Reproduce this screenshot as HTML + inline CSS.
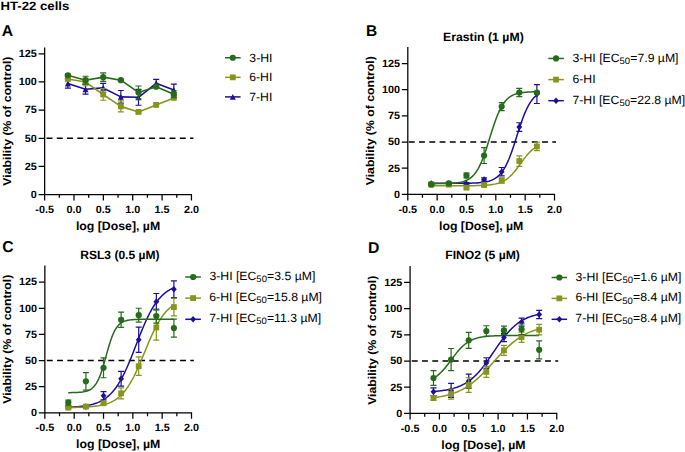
<!DOCTYPE html><html><head><meta charset="utf-8"><title>HT-22 cells viability</title><style>
html,body{margin:0;padding:0;background:#fff;width:685px;height:452px;overflow:hidden}
svg{display:block}
text{font-family:"Liberation Sans", sans-serif;fill:#000;text-rendering:geometricPrecision}
</style></head><body>
<svg width="685" height="452" viewBox="0 0 685 452">
<text transform="translate(0.41,9.6) scale(1.0990,1)" font-size="12" font-weight="bold">HT-22 cells</text>
<text transform="translate(1.79,35.9) scale(1.0000,1)" font-size="15.7" font-weight="bold">A</text>
<path d="M44.65 47.5V200.55M38.65 194.55H191.45V200.55" stroke="#000" stroke-width="1.25" fill="none"/>
<path d="M38.65 166.4H44.65M38.65 138.25H44.65M38.65 110.1H44.65M38.65 81.95H44.65M38.65 53.8H44.65M59.33 194.55V197.85M74.01 194.55V200.55M88.69 194.55V197.85M103.37 194.55V200.55M118.05 194.55V197.85M132.73 194.55V200.55M147.41 194.55V197.85M162.09 194.55V200.55M176.77 194.55V197.85" stroke="#000" stroke-width="1.25" fill="none"/>
<text transform="translate(36.88,197.85) scale(1.0300,1)" font-size="10.5" font-weight="bold" text-anchor="end">0</text>
<text transform="translate(36.88,169.7) scale(1.0300,1)" font-size="10.5" font-weight="bold" text-anchor="end">25</text>
<text transform="translate(36.88,141.55) scale(1.0300,1)" font-size="10.5" font-weight="bold" text-anchor="end">50</text>
<text transform="translate(36.88,113.4) scale(1.0300,1)" font-size="10.5" font-weight="bold" text-anchor="end">75</text>
<text transform="translate(36.88,85.25) scale(1.0300,1)" font-size="10.5" font-weight="bold" text-anchor="end">100</text>
<text transform="translate(36.88,57.1) scale(1.0300,1)" font-size="10.5" font-weight="bold" text-anchor="end">125</text>
<text transform="translate(44.65,212.95) scale(1.0300,1)" font-size="10.5" font-weight="bold" text-anchor="middle">-0.5</text>
<text transform="translate(74.01,212.95) scale(1.0300,1)" font-size="10.5" font-weight="bold" text-anchor="middle">0.0</text>
<text transform="translate(103.37,212.95) scale(1.0300,1)" font-size="10.5" font-weight="bold" text-anchor="middle">0.5</text>
<text transform="translate(132.73,212.95) scale(1.0300,1)" font-size="10.5" font-weight="bold" text-anchor="middle">1.0</text>
<text transform="translate(162.09,212.95) scale(1.0300,1)" font-size="10.5" font-weight="bold" text-anchor="middle">1.5</text>
<text transform="translate(191.45,212.95) scale(1.0300,1)" font-size="10.5" font-weight="bold" text-anchor="middle">2.0</text>
<line x1="46.55" y1="138.25" x2="193.4" y2="138.25" stroke="#000" stroke-width="1.45" stroke-dasharray="5.9 4.35"/>
<text transform="translate(118.05,229.75) scale(1.0250,1)" font-size="12" font-weight="bold" text-anchor="middle">log [Dose], µM</text>
<text transform="translate(10.65,121.12) rotate(-90) scale(1.0750,1)" font-size="11.4" font-weight="bold" text-anchor="middle">Viability (% of control)</text>
<polyline points="67.85,83.5 85.52,89.28 103.18,87.92 120.84,96.87 138.51,97.32 156.17,83.27 173.84,89.96" fill="none" stroke="#1d0f98" stroke-width="1.6" stroke-linejoin="round"/>
<polyline points="67.85,78.97 85.52,82.03 103.18,94.49 120.84,106.38 138.51,111.93 156.17,104.91 173.84,97.89" fill="none" stroke="#87951f" stroke-width="1.6" stroke-linejoin="round"/>
<polyline points="67.85,75.34 85.52,80.21 103.18,77.16 120.84,80.21 138.51,92.45 156.17,86.67 173.84,94.15" fill="none" stroke="#246c18" stroke-width="1.6" stroke-linejoin="round"/>
<path d="M67.85 78.85V88.14M64.85 78.85H70.85M64.85 88.14H70.85" stroke="#1d0f98" stroke-width="1.2" fill="none"/>
<path d="M85.52 84.41V94.15M82.52 84.41H88.52M82.52 94.15H88.52" stroke="#1d0f98" stroke-width="1.2" fill="none"/>
<path d="M103.18 83.39V92.45M100.18 83.39H106.18M100.18 92.45H106.18" stroke="#1d0f98" stroke-width="1.2" fill="none"/>
<path d="M120.84 90.52V103.21M117.84 90.52H123.84M117.84 103.21H123.84" stroke="#1d0f98" stroke-width="1.2" fill="none"/>
<path d="M138.51 89.39V105.25M135.51 89.39H141.51M135.51 105.25H141.51" stroke="#1d0f98" stroke-width="1.2" fill="none"/>
<path d="M156.17 79.31V87.24M153.17 79.31H159.17M153.17 87.24H159.17" stroke="#1d0f98" stroke-width="1.2" fill="none"/>
<path d="M173.84 84.18V95.73M170.84 84.18H176.84M170.84 95.73H176.84" stroke="#1d0f98" stroke-width="1.2" fill="none"/>
<path d="M67.85 80.6L70.85 86.4L64.85 86.4Z" fill="#1d0f98"/>
<path d="M85.52 86.38L88.52 92.18L82.52 92.18Z" fill="#1d0f98"/>
<path d="M103.18 85.02L106.18 90.82L100.18 90.82Z" fill="#1d0f98"/>
<path d="M120.84 93.97L123.84 99.77L117.84 99.77Z" fill="#1d0f98"/>
<path d="M138.51 94.42L141.51 100.22L135.51 100.22Z" fill="#1d0f98"/>
<path d="M156.17 80.37L159.17 86.17L153.17 86.17Z" fill="#1d0f98"/>
<path d="M173.84 87.06L176.84 92.86L170.84 92.86Z" fill="#1d0f98"/>
<path d="M67.85 77.83V80.1M64.85 77.83H70.85M64.85 80.1H70.85" stroke="#87951f" stroke-width="1.2" fill="none"/>
<path d="M85.52 78.29V85.76M82.52 78.29H88.52M82.52 85.76H88.52" stroke="#87951f" stroke-width="1.2" fill="none"/>
<path d="M103.18 88.71V100.26M100.18 88.71H106.18M100.18 100.26H106.18" stroke="#87951f" stroke-width="1.2" fill="none"/>
<path d="M120.84 100.83V111.93M117.84 100.83H123.84M117.84 111.93H123.84" stroke="#87951f" stroke-width="1.2" fill="none"/>
<path d="M138.51 110.8V113.06M135.51 110.8H141.51M135.51 113.06H141.51" stroke="#87951f" stroke-width="1.2" fill="none"/>
<path d="M156.17 103.78V106.04M153.17 103.78H159.17M153.17 106.04H159.17" stroke="#87951f" stroke-width="1.2" fill="none"/>
<path d="M173.84 96.75V99.02M170.84 96.75H176.84M170.84 99.02H176.84" stroke="#87951f" stroke-width="1.2" fill="none"/>
<rect x="64.95" y="76.07" width="5.8" height="5.8" fill="#87951f"/>
<rect x="82.62" y="79.13" width="5.8" height="5.8" fill="#87951f"/>
<rect x="100.28" y="91.59" width="5.8" height="5.8" fill="#87951f"/>
<rect x="117.94" y="103.48" width="5.8" height="5.8" fill="#87951f"/>
<rect x="135.61" y="109.03" width="5.8" height="5.8" fill="#87951f"/>
<rect x="153.27" y="102.01" width="5.8" height="5.8" fill="#87951f"/>
<rect x="170.94" y="94.99" width="5.8" height="5.8" fill="#87951f"/>
<path d="M67.85 74.21V76.48M64.85 74.21H70.85M64.85 76.48H70.85" stroke="#246c18" stroke-width="1.2" fill="none"/>
<path d="M85.52 76.25V84.18M82.52 76.25H88.52M82.52 84.18H88.52" stroke="#246c18" stroke-width="1.2" fill="none"/>
<path d="M103.18 72.85V81.46M100.18 72.85H106.18M100.18 81.46H106.18" stroke="#246c18" stroke-width="1.2" fill="none"/>
<path d="M120.84 79.08V81.35M117.84 79.08H123.84M117.84 81.35H123.84" stroke="#246c18" stroke-width="1.2" fill="none"/>
<path d="M138.51 85.99V98.9M135.51 85.99H141.51M135.51 98.9H141.51" stroke="#246c18" stroke-width="1.2" fill="none"/>
<path d="M156.17 85.54V87.8M153.17 85.54H159.17M153.17 87.8H159.17" stroke="#246c18" stroke-width="1.2" fill="none"/>
<path d="M173.84 90.75V97.55M170.84 90.75H176.84M170.84 97.55H176.84" stroke="#246c18" stroke-width="1.2" fill="none"/>
<circle cx="67.85" cy="75.34" r="3.1" fill="#246c18"/>
<circle cx="85.52" cy="80.21" r="3.1" fill="#246c18"/>
<circle cx="103.18" cy="77.16" r="3.1" fill="#246c18"/>
<circle cx="120.84" cy="80.21" r="3.1" fill="#246c18"/>
<circle cx="138.51" cy="92.45" r="3.1" fill="#246c18"/>
<circle cx="156.17" cy="86.67" r="3.1" fill="#246c18"/>
<circle cx="173.84" cy="94.15" r="3.1" fill="#246c18"/>
<line x1="225" y1="57.75" x2="240.6" y2="57.75" stroke="#246c18" stroke-width="1.5"/>
<circle cx="232.8" cy="57.75" r="3.1" fill="#246c18"/>
<text transform="translate(249.37,61.65) scale(1.0200,1)" font-size="12" font-weight="normal">3-HI</text>
<line x1="225" y1="77.35" x2="240.6" y2="77.35" stroke="#87951f" stroke-width="1.5"/>
<rect x="229.9" y="74.45" width="5.8" height="5.8" fill="#87951f"/>
<text transform="translate(249.23,81.25) scale(1.0200,1)" font-size="12" font-weight="normal">6-HI</text>
<line x1="225" y1="96.9" x2="240.6" y2="96.9" stroke="#1d0f98" stroke-width="1.5"/>
<path d="M232.8 94L235.8 99.8L229.8 99.8Z" fill="#1d0f98"/>
<text transform="translate(249.2,100.8) scale(1.0200,1)" font-size="12" font-weight="normal">7-HI</text>
<text transform="translate(365.98,35.6) scale(1.0000,1)" font-size="15.5" font-weight="bold">B</text>
<text transform="translate(442.99,40.8) scale(1.0230,1)" font-size="12" font-weight="bold">Erastin (1 µM)</text>
<path d="M407.8 46.92V200.4M401.8 194.4H554.5V200.4" stroke="#000" stroke-width="1.25" fill="none"/>
<path d="M401.8 168.23H407.8M401.8 142.06H407.8M401.8 115.9H407.8M401.8 89.73H407.8M401.8 63.56H407.8M422.47 194.4V197.7M437.14 194.4V200.4M451.81 194.4V197.7M466.48 194.4V200.4M481.15 194.4V197.7M495.82 194.4V200.4M510.49 194.4V197.7M525.16 194.4V200.4M539.83 194.4V197.7" stroke="#000" stroke-width="1.25" fill="none"/>
<text transform="translate(400.03,197.7) scale(1.0300,1)" font-size="10.5" font-weight="bold" text-anchor="end">0</text>
<text transform="translate(400.03,171.53) scale(1.0300,1)" font-size="10.5" font-weight="bold" text-anchor="end">25</text>
<text transform="translate(400.03,145.36) scale(1.0300,1)" font-size="10.5" font-weight="bold" text-anchor="end">50</text>
<text transform="translate(400.03,119.2) scale(1.0300,1)" font-size="10.5" font-weight="bold" text-anchor="end">75</text>
<text transform="translate(400.03,93.03) scale(1.0300,1)" font-size="10.5" font-weight="bold" text-anchor="end">100</text>
<text transform="translate(400.03,66.86) scale(1.0300,1)" font-size="10.5" font-weight="bold" text-anchor="end">125</text>
<text transform="translate(407.8,212.8) scale(1.0300,1)" font-size="10.5" font-weight="bold" text-anchor="middle">-0.5</text>
<text transform="translate(437.14,212.8) scale(1.0300,1)" font-size="10.5" font-weight="bold" text-anchor="middle">0.0</text>
<text transform="translate(466.48,212.8) scale(1.0300,1)" font-size="10.5" font-weight="bold" text-anchor="middle">0.5</text>
<text transform="translate(495.82,212.8) scale(1.0300,1)" font-size="10.5" font-weight="bold" text-anchor="middle">1.0</text>
<text transform="translate(525.16,212.8) scale(1.0300,1)" font-size="10.5" font-weight="bold" text-anchor="middle">1.5</text>
<text transform="translate(554.5,212.8) scale(1.0300,1)" font-size="10.5" font-weight="bold" text-anchor="middle">2.0</text>
<line x1="408.8" y1="142.06" x2="556" y2="142.06" stroke="#000" stroke-width="1.45" stroke-dasharray="5.9 4.35"/>
<text transform="translate(481.15,229.6) scale(1.0250,1)" font-size="12" font-weight="bold" text-anchor="middle">log [Dose], µM</text>
<text transform="translate(373.8,120.76) rotate(-90) scale(1.0750,1)" font-size="11.4" font-weight="bold" text-anchor="middle">Viability (% of control)</text>
<polyline points="431.27,183.36 432.45,183.36 433.62,183.36 434.79,183.36 435.97,183.36 437.14,183.36 438.31,183.36 439.49,183.36 440.66,183.36 441.83,183.36 443.01,183.36 444.18,183.36 445.36,183.36 446.53,183.36 447.7,183.36 448.88,183.35 450.05,183.35 451.22,183.35 452.4,183.35 453.57,183.34 454.74,183.34 455.92,183.34 457.09,183.33 458.26,183.33 459.44,183.32 460.61,183.31 461.79,183.3 462.96,183.29 464.13,183.28 465.31,183.27 466.48,183.25 467.65,183.23 468.83,183.21 470,183.18 471.17,183.15 472.35,183.12 473.52,183.07 474.7,183.02 475.87,182.97 477.04,182.9 478.22,182.82 479.39,182.73 480.56,182.62 481.74,182.5 482.91,182.35 484.08,182.18 485.26,181.99 486.43,181.76 487.6,181.49 488.78,181.18 489.95,180.82 491.13,180.4 492.3,179.92 493.47,179.36 494.65,178.71 495.82,177.97 496.99,177.11 498.17,176.14 499.34,175.02 500.51,173.75 501.69,172.31 502.86,170.69 504.04,168.87 505.21,166.84 506.38,164.6 507.56,162.14 508.73,159.45 509.9,156.55 511.08,153.44 512.25,150.16 513.42,146.71 514.6,143.15 515.77,139.5 516.94,135.81 518.12,132.13 519.29,128.49 520.47,124.95 521.64,121.54 522.81,118.28 523.99,115.22 525.16,112.36 526.33,109.72 527.51,107.3 528.68,105.1 529.85,103.11 531.03,101.34 532.2,99.75 533.38,98.35 534.55,97.11 535.72,96.02 536.9,95.07" fill="none" stroke="#1d0f98" stroke-width="1.5" stroke-linejoin="round"/>
<polyline points="431.27,185.78 432.45,185.78 433.62,185.78 434.79,185.78 435.97,185.78 437.14,185.78 438.31,185.78 439.49,185.78 440.66,185.78 441.83,185.78 443.01,185.78 444.18,185.78 445.36,185.78 446.53,185.78 447.7,185.78 448.88,185.78 450.05,185.78 451.22,185.78 452.4,185.78 453.57,185.77 454.74,185.77 455.92,185.77 457.09,185.77 458.26,185.77 459.44,185.76 460.61,185.76 461.79,185.76 462.96,185.75 464.13,185.75 465.31,185.74 466.48,185.73 467.65,185.73 468.83,185.72 470,185.71 471.17,185.69 472.35,185.68 473.52,185.66 474.7,185.64 475.87,185.62 477.04,185.6 478.22,185.57 479.39,185.53 480.56,185.49 481.74,185.45 482.91,185.39 484.08,185.33 485.26,185.26 486.43,185.18 487.6,185.08 488.78,184.97 489.95,184.85 491.13,184.7 492.3,184.53 493.47,184.34 494.65,184.12 495.82,183.87 496.99,183.58 498.17,183.25 499.34,182.88 500.51,182.45 501.69,181.96 502.86,181.42 504.04,180.8 505.21,180.11 506.38,179.34 507.56,178.49 508.73,177.55 509.9,176.52 511.08,175.39 512.25,174.17 513.42,172.87 514.6,171.48 515.77,170.02 516.94,168.5 518.12,166.92 519.29,165.32 520.47,163.69 521.64,162.07 522.81,160.46 523.99,158.89 525.16,157.36 526.33,155.9 527.51,154.52 528.68,153.21 529.85,151.99 531.03,150.87 532.2,149.84 533.38,148.89 534.55,148.04 535.72,147.27 536.9,146.58" fill="none" stroke="#87951f" stroke-width="1.5" stroke-linejoin="round"/>
<polyline points="431.27,183.65 432.45,183.65 433.62,183.65 434.79,183.64 435.97,183.63 437.14,183.62 438.31,183.61 439.49,183.6 440.66,183.59 441.83,183.57 443.01,183.55 444.18,183.53 445.36,183.5 446.53,183.47 447.7,183.43 448.88,183.38 450.05,183.33 451.22,183.27 452.4,183.2 453.57,183.11 454.74,183.01 455.92,182.89 457.09,182.75 458.26,182.59 459.44,182.4 460.61,182.17 461.79,181.91 462.96,181.6 464.13,181.23 465.31,180.81 466.48,180.31 467.65,179.74 468.83,179.07 470,178.3 471.17,177.4 472.35,176.37 473.52,175.18 474.7,173.82 475.87,172.28 477.04,170.53 478.22,168.57 479.39,166.38 480.56,163.95 481.74,161.28 482.91,158.38 484.08,155.25 485.26,151.92 486.43,148.42 487.6,144.79 488.78,141.05 489.95,137.28 491.13,133.5 492.3,129.79 493.47,126.17 494.65,122.71 495.82,119.42 496.99,116.33 498.17,113.48 499.34,110.86 500.51,108.48 501.69,106.33 502.86,104.41 504.04,102.71 505.21,101.2 506.38,99.88 507.56,98.73 508.73,97.72 509.9,96.85 511.08,96.1 512.25,95.45 513.42,94.89 514.6,94.41 515.77,94 516.94,93.65 518.12,93.35 519.29,93.09 520.47,92.87 521.64,92.69 522.81,92.53 523.99,92.39 525.16,92.28 526.33,92.18 527.51,92.1 528.68,92.03 529.85,91.97 531.03,91.92 532.2,91.87 533.38,91.84 534.55,91.8 535.72,91.78 536.9,91.76" fill="none" stroke="#246c18" stroke-width="1.5" stroke-linejoin="round"/>
<path d="M431.27 182.42V184.52M428.27 182.42H434.27M428.27 184.52H434.27" stroke="#1d0f98" stroke-width="1.2" fill="none"/>
<path d="M448.88 182.42V184.52M445.88 182.42H451.88M445.88 184.52H451.88" stroke="#1d0f98" stroke-width="1.2" fill="none"/>
<path d="M466.48 182.63V184.73M463.48 182.63H469.48M463.48 184.73H469.48" stroke="#1d0f98" stroke-width="1.2" fill="none"/>
<path d="M484.08 177.89V181.05M481.08 177.89H487.08M481.08 181.05H487.08" stroke="#1d0f98" stroke-width="1.2" fill="none"/>
<path d="M501.69 167.48V175.9M498.69 167.48H504.69M498.69 175.9H504.69" stroke="#1d0f98" stroke-width="1.2" fill="none"/>
<path d="M519.29 122.77V131.4M516.29 122.77H522.29M516.29 131.4H522.29" stroke="#1d0f98" stroke-width="1.2" fill="none"/>
<path d="M536.9 84.58V103.52M533.9 84.58H539.9M533.9 103.52H539.9" stroke="#1d0f98" stroke-width="1.2" fill="none"/>
<path d="M431.27 180.17L434.17 183.47L431.27 186.77L428.37 183.47Z" fill="#1d0f98"/>
<path d="M448.88 180.17L451.78 183.47L448.88 186.77L445.98 183.47Z" fill="#1d0f98"/>
<path d="M466.48 180.38L469.38 183.68L466.48 186.98L463.58 183.68Z" fill="#1d0f98"/>
<path d="M484.08 176.17L486.98 179.47L484.08 182.77L481.18 179.47Z" fill="#1d0f98"/>
<path d="M501.69 168.39L504.59 171.69L501.69 174.99L498.79 171.69Z" fill="#1d0f98"/>
<path d="M519.29 123.78L522.19 127.08L519.29 130.38L516.39 127.08Z" fill="#1d0f98"/>
<path d="M536.9 90.75L539.8 94.05L536.9 97.35L534 94.05Z" fill="#1d0f98"/>
<path d="M431.27 183.57V185.68M428.27 183.57H434.27M428.27 185.68H434.27" stroke="#87951f" stroke-width="1.2" fill="none"/>
<path d="M448.88 183.57V185.68M445.88 183.57H451.88M445.88 185.68H451.88" stroke="#87951f" stroke-width="1.2" fill="none"/>
<path d="M466.48 186.63V188.73M463.48 186.63H469.48M463.48 188.73H469.48" stroke="#87951f" stroke-width="1.2" fill="none"/>
<path d="M484.08 184V186.1M481.08 184H487.08M481.08 186.1H487.08" stroke="#87951f" stroke-width="1.2" fill="none"/>
<path d="M501.69 177.89V183.15M498.69 177.89H504.69M498.69 183.15H504.69" stroke="#87951f" stroke-width="1.2" fill="none"/>
<path d="M519.29 155.8V166.32M516.29 155.8H522.29M516.29 166.32H522.29" stroke="#87951f" stroke-width="1.2" fill="none"/>
<path d="M536.9 142.23V150.65M533.9 142.23H539.9M533.9 150.65H539.9" stroke="#87951f" stroke-width="1.2" fill="none"/>
<rect x="428.37" y="181.73" width="5.8" height="5.8" fill="#87951f"/>
<rect x="445.98" y="181.73" width="5.8" height="5.8" fill="#87951f"/>
<rect x="463.58" y="184.78" width="5.8" height="5.8" fill="#87951f"/>
<rect x="481.18" y="182.15" width="5.8" height="5.8" fill="#87951f"/>
<rect x="498.79" y="177.62" width="5.8" height="5.8" fill="#87951f"/>
<rect x="516.39" y="158.16" width="5.8" height="5.8" fill="#87951f"/>
<rect x="534" y="143.54" width="5.8" height="5.8" fill="#87951f"/>
<path d="M431.27 183.36V185.47M428.27 183.36H434.27M428.27 185.47H434.27" stroke="#246c18" stroke-width="1.2" fill="none"/>
<path d="M448.88 182.42V184.52M445.88 182.42H451.88M445.88 184.52H451.88" stroke="#246c18" stroke-width="1.2" fill="none"/>
<path d="M466.48 173.16V177.79M463.48 173.16H469.48M463.48 177.79H469.48" stroke="#246c18" stroke-width="1.2" fill="none"/>
<path d="M484.08 147.7V163.48M481.08 147.7H487.08M481.08 163.48H487.08" stroke="#246c18" stroke-width="1.2" fill="none"/>
<path d="M501.69 102.57V110.57M498.69 102.57H504.69M498.69 110.57H504.69" stroke="#246c18" stroke-width="1.2" fill="none"/>
<path d="M519.29 88.47V96.68M516.29 88.47H522.29M516.29 96.68H522.29" stroke="#246c18" stroke-width="1.2" fill="none"/>
<path d="M536.9 91.52V93.63M533.9 91.52H539.9M533.9 93.63H539.9" stroke="#246c18" stroke-width="1.2" fill="none"/>
<circle cx="431.27" cy="184.42" r="3.1" fill="#246c18"/>
<circle cx="448.88" cy="183.47" r="3.1" fill="#246c18"/>
<circle cx="466.48" cy="175.47" r="3.1" fill="#246c18"/>
<circle cx="484.08" cy="155.59" r="3.1" fill="#246c18"/>
<circle cx="501.69" cy="106.57" r="3.1" fill="#246c18"/>
<circle cx="519.29" cy="92.58" r="3.1" fill="#246c18"/>
<circle cx="536.9" cy="92.58" r="3.1" fill="#246c18"/>
<line x1="548.3" y1="58.45" x2="563.8" y2="58.45" stroke="#246c18" stroke-width="1.5"/>
<circle cx="556.05" cy="58.45" r="3.1" fill="#246c18"/>
<text transform="translate(572.61,61.65) scale(1.0200,1)" font-size="12" font-weight="normal">3-HI [EC<tspan font-size="9.3" dy="2.1">50</tspan><tspan dy="-2.1" dx="0.2">=7.9 µM]</tspan></text>
<line x1="548.3" y1="79.6" x2="563.8" y2="79.6" stroke="#87951f" stroke-width="1.5"/>
<rect x="553.15" y="76.7" width="5.8" height="5.8" fill="#87951f"/>
<text transform="translate(572.47,82.8) scale(1.0200,1)" font-size="12" font-weight="normal">6-HI</text>
<line x1="548.3" y1="100.7" x2="563.8" y2="100.7" stroke="#1d0f98" stroke-width="1.5"/>
<path d="M556.05 97.4L558.95 100.7L556.05 104L553.15 100.7Z" fill="#1d0f98"/>
<text transform="translate(572.44,103.9) scale(1.0200,1)" font-size="12" font-weight="normal">7-HI [EC<tspan font-size="9.3" dy="2.1">50</tspan><tspan dy="-2.1" dx="0.2">=22.8 µM]</tspan></text>
<text transform="translate(2.24,252.2) scale(1.0000,1)" font-size="15.7" font-weight="bold">C</text>
<text transform="translate(80.2,259.3) scale(1.0050,1)" font-size="12" font-weight="bold">RSL3 (0.5 µM)</text>
<path d="M44.86 265.46V418.83M38.86 412.83H191.5V418.83" stroke="#000" stroke-width="1.25" fill="none"/>
<path d="M38.86 386.68H44.86M38.86 360.54H44.86M38.86 334.39H44.86M38.86 308.25H44.86M38.86 282.1H44.86M59.52 412.83V416.13M74.19 412.83V418.83M88.85 412.83V416.13M103.52 412.83V418.83M118.18 412.83V416.13M132.84 412.83V418.83M147.51 412.83V416.13M162.17 412.83V418.83M176.84 412.83V416.13" stroke="#000" stroke-width="1.25" fill="none"/>
<text transform="translate(37.09,416.13) scale(1.0300,1)" font-size="10.5" font-weight="bold" text-anchor="end">0</text>
<text transform="translate(37.09,389.98) scale(1.0300,1)" font-size="10.5" font-weight="bold" text-anchor="end">25</text>
<text transform="translate(37.09,363.84) scale(1.0300,1)" font-size="10.5" font-weight="bold" text-anchor="end">50</text>
<text transform="translate(37.09,337.69) scale(1.0300,1)" font-size="10.5" font-weight="bold" text-anchor="end">75</text>
<text transform="translate(37.09,311.55) scale(1.0300,1)" font-size="10.5" font-weight="bold" text-anchor="end">100</text>
<text transform="translate(37.09,285.4) scale(1.0300,1)" font-size="10.5" font-weight="bold" text-anchor="end">125</text>
<text transform="translate(44.86,431.23) scale(1.0300,1)" font-size="10.5" font-weight="bold" text-anchor="middle">-0.5</text>
<text transform="translate(74.19,431.23) scale(1.0300,1)" font-size="10.5" font-weight="bold" text-anchor="middle">0.0</text>
<text transform="translate(103.52,431.23) scale(1.0300,1)" font-size="10.5" font-weight="bold" text-anchor="middle">0.5</text>
<text transform="translate(132.84,431.23) scale(1.0300,1)" font-size="10.5" font-weight="bold" text-anchor="middle">1.0</text>
<text transform="translate(162.17,431.23) scale(1.0300,1)" font-size="10.5" font-weight="bold" text-anchor="middle">1.5</text>
<text transform="translate(191.5,431.23) scale(1.0300,1)" font-size="10.5" font-weight="bold" text-anchor="middle">2.0</text>
<line x1="46.84" y1="360.54" x2="193.8" y2="360.54" stroke="#000" stroke-width="1.45" stroke-dasharray="5.9 4.35"/>
<text transform="translate(118.18,448.03) scale(1.0250,1)" font-size="12" font-weight="bold" text-anchor="middle">log [Dose], µM</text>
<text transform="translate(10.86,339.25) rotate(-90) scale(1.0750,1)" font-size="11.4" font-weight="bold" text-anchor="middle">Viability (% of control)</text>
<polyline points="68.32,407.17 69.5,407.12 70.67,407.07 71.84,407.01 73.01,406.95 74.19,406.88 75.36,406.81 76.53,406.72 77.71,406.63 78.88,406.53 80.05,406.42 81.23,406.29 82.4,406.16 83.57,406.01 84.75,405.85 85.92,405.67 87.09,405.47 88.27,405.25 89.44,405.02 90.61,404.76 91.78,404.47 92.96,404.16 94.13,403.82 95.3,403.44 96.48,403.03 97.65,402.58 98.82,402.09 100,401.55 101.17,400.97 102.34,400.33 103.52,399.63 104.69,398.88 105.86,398.06 107.04,397.17 108.21,396.2 109.38,395.15 110.55,394.02 111.73,392.81 112.9,391.49 114.07,390.08 115.25,388.57 116.42,386.96 117.59,385.23 118.77,383.4 119.94,381.45 121.11,379.39 122.29,377.22 123.46,374.94 124.63,372.55 125.81,370.05 126.98,367.46 128.15,364.78 129.32,362.01 130.5,359.18 131.67,356.27 132.84,353.32 134.02,350.33 135.19,347.32 136.36,344.29 137.54,341.27 138.71,338.26 139.88,335.29 141.06,332.36 142.23,329.49 143.4,326.68 144.58,323.96 145.75,321.32 146.92,318.78 148.09,316.34 149.27,314 150.44,311.77 151.61,309.66 152.79,307.65 153.96,305.76 155.13,303.98 156.31,302.31 157.48,300.75 158.65,299.29 159.83,297.93 161,296.67 162.17,295.49 163.35,294.41 164.52,293.4 165.69,292.47 166.86,291.62 168.04,290.83 169.21,290.1 170.38,289.44 171.56,288.83 172.73,288.27 173.9,287.75" fill="none" stroke="#1d0f98" stroke-width="1.5" stroke-linejoin="round"/>
<polyline points="68.32,407.5 69.5,407.49 70.67,407.47 71.84,407.46 73.01,407.43 74.19,407.41 75.36,407.39 76.53,407.36 77.71,407.33 78.88,407.3 80.05,407.26 81.23,407.22 82.4,407.17 83.57,407.12 84.75,407.07 85.92,407 87.09,406.94 88.27,406.86 89.44,406.78 90.61,406.68 91.78,406.58 92.96,406.47 94.13,406.34 95.3,406.2 96.48,406.05 97.65,405.88 98.82,405.69 100,405.48 101.17,405.25 102.34,405 103.52,404.72 104.69,404.41 105.86,404.07 107.04,403.69 108.21,403.28 109.38,402.83 110.55,402.33 111.73,401.79 112.9,401.19 114.07,400.53 115.25,399.81 116.42,399.03 117.59,398.17 118.77,397.24 119.94,396.23 121.11,395.13 122.29,393.94 123.46,392.65 124.63,391.27 125.81,389.77 126.98,388.17 128.15,386.47 129.32,384.64 130.5,382.71 131.67,380.66 132.84,378.5 134.02,376.24 135.19,373.87 136.36,371.4 137.54,368.85 138.71,366.21 139.88,363.51 141.06,360.75 142.23,357.95 143.4,355.11 144.58,352.27 145.75,349.42 146.92,346.59 148.09,343.79 149.27,341.04 150.44,338.34 151.61,335.71 152.79,333.17 153.96,330.71 155.13,328.35 156.31,326.1 157.48,323.95 158.65,321.91 159.83,319.99 161,318.18 162.17,316.48 163.35,314.89 164.52,313.41 165.69,312.03 166.86,310.76 168.04,309.58 169.21,308.49 170.38,307.48 171.56,306.56 172.73,305.71 173.9,304.93" fill="none" stroke="#87951f" stroke-width="1.5" stroke-linejoin="round"/>
<polyline points="68.32,392.66 69.5,392.65 70.67,392.63 71.84,392.61 73.01,392.59 74.19,392.56 75.36,392.53 76.53,392.48 77.71,392.42 78.88,392.35 80.05,392.26 81.23,392.15 82.4,392.01 83.57,391.83 84.75,391.61 85.92,391.33 87.09,390.98 88.27,390.55 89.44,390.01 90.61,389.35 91.78,388.53 92.96,387.52 94.13,386.3 95.3,384.82 96.48,383.05 97.65,380.95 98.82,378.49 100,375.67 101.17,372.47 102.34,368.93 103.52,365.09 104.69,361.03 105.86,356.83 107.04,352.61 108.21,348.49 109.38,344.54 110.55,340.88 111.73,337.54 112.9,334.56 114.07,331.96 115.25,329.72 116.42,327.82 117.59,326.23 118.77,324.91 119.94,323.82 121.11,322.93 122.29,322.21 123.46,321.63 124.63,321.15 125.81,320.77 126.98,320.47 128.15,320.23 129.32,320.03 130.5,319.88 131.67,319.75 132.84,319.66 134.02,319.58 135.19,319.51 136.36,319.46 137.54,319.43 138.71,319.39 139.88,319.37 141.06,319.35 142.23,319.33 143.4,319.32 144.58,319.31 145.75,319.3 146.92,319.3 148.09,319.29 149.27,319.29 150.44,319.28 151.61,319.28 152.79,319.28 153.96,319.28 155.13,319.28 156.31,319.28 157.48,319.28 158.65,319.27 159.83,319.27 161,319.27 162.17,319.27 163.35,319.27 164.52,319.27 165.69,319.27 166.86,319.27 168.04,319.27 169.21,319.27 170.38,319.27 171.56,319.27 172.73,319.27 173.9,319.27" fill="none" stroke="#246c18" stroke-width="1.5" stroke-linejoin="round"/>
<path d="M68.32 406.06V408.17M65.32 406.06H71.32M65.32 408.17H71.32" stroke="#1d0f98" stroke-width="1.2" fill="none"/>
<path d="M85.92 405.54V407.64M82.92 405.54H88.92M82.92 407.64H88.92" stroke="#1d0f98" stroke-width="1.2" fill="none"/>
<path d="M103.52 391.54V399.96M100.52 391.54H106.52M100.52 399.96H106.52" stroke="#1d0f98" stroke-width="1.2" fill="none"/>
<path d="M121.11 371.45V386.18M118.11 371.45H124.11M118.11 386.18H124.11" stroke="#1d0f98" stroke-width="1.2" fill="none"/>
<path d="M138.71 327.06V352.3M135.71 327.06H141.71M135.71 352.3H141.71" stroke="#1d0f98" stroke-width="1.2" fill="none"/>
<path d="M156.31 293.5V309.91M153.31 293.5H159.31M153.31 309.91H159.31" stroke="#1d0f98" stroke-width="1.2" fill="none"/>
<path d="M173.9 280.87V297.71M170.9 280.87H176.9M170.9 297.71H176.9" stroke="#1d0f98" stroke-width="1.2" fill="none"/>
<path d="M68.32 403.81L71.22 407.11L68.32 410.41L65.42 407.11Z" fill="#1d0f98"/>
<path d="M85.92 403.29L88.82 406.59L85.92 409.89L83.02 406.59Z" fill="#1d0f98"/>
<path d="M103.52 392.45L106.42 395.75L103.52 399.05L100.62 395.75Z" fill="#1d0f98"/>
<path d="M121.11 375.52L124.01 378.82L121.11 382.12L118.21 378.82Z" fill="#1d0f98"/>
<path d="M138.71 336.38L141.61 339.68L138.71 342.98L135.81 339.68Z" fill="#1d0f98"/>
<path d="M156.31 298.4L159.21 301.7L156.31 305L153.41 301.7Z" fill="#1d0f98"/>
<path d="M173.9 285.99L176.8 289.29L173.9 292.59L171 289.29Z" fill="#1d0f98"/>
<path d="M68.32 406.59V408.69M65.32 406.59H71.32M65.32 408.69H71.32" stroke="#87951f" stroke-width="1.2" fill="none"/>
<path d="M85.92 405.54V407.64M82.92 405.54H88.92M82.92 407.64H88.92" stroke="#87951f" stroke-width="1.2" fill="none"/>
<path d="M103.52 401.75V404.69M100.52 401.75H106.52M100.52 404.69H106.52" stroke="#87951f" stroke-width="1.2" fill="none"/>
<path d="M121.11 387.86V398.8M118.11 387.86H124.11M118.11 398.8H124.11" stroke="#87951f" stroke-width="1.2" fill="none"/>
<path d="M138.71 356.93V375.45M135.71 356.93H141.71M135.71 375.45H141.71" stroke="#87951f" stroke-width="1.2" fill="none"/>
<path d="M156.31 314.85V340.1M153.31 314.85H159.31M153.31 340.1H159.31" stroke="#87951f" stroke-width="1.2" fill="none"/>
<path d="M173.9 298.34V315.8M170.9 298.34H176.9M170.9 315.8H176.9" stroke="#87951f" stroke-width="1.2" fill="none"/>
<rect x="65.42" y="404.74" width="5.8" height="5.8" fill="#87951f"/>
<rect x="83.02" y="403.69" width="5.8" height="5.8" fill="#87951f"/>
<rect x="100.62" y="400.32" width="5.8" height="5.8" fill="#87951f"/>
<rect x="118.21" y="390.43" width="5.8" height="5.8" fill="#87951f"/>
<rect x="135.81" y="363.29" width="5.8" height="5.8" fill="#87951f"/>
<rect x="153.41" y="324.58" width="5.8" height="5.8" fill="#87951f"/>
<rect x="171" y="304.17" width="5.8" height="5.8" fill="#87951f"/>
<path d="M68.32 400.07V405.12M65.32 400.07H71.32M65.32 405.12H71.32" stroke="#246c18" stroke-width="1.2" fill="none"/>
<path d="M85.92 372.61V390.07M82.92 372.61H88.92M82.92 390.07H88.92" stroke="#246c18" stroke-width="1.2" fill="none"/>
<path d="M103.52 357.78V377.76M100.52 357.78H106.52M100.52 377.76H106.52" stroke="#246c18" stroke-width="1.2" fill="none"/>
<path d="M121.11 312.22V327.37M118.11 312.22H124.11M118.11 327.37H124.11" stroke="#246c18" stroke-width="1.2" fill="none"/>
<path d="M138.71 308.23V322.11M135.71 308.23H141.71M135.71 322.11H141.71" stroke="#246c18" stroke-width="1.2" fill="none"/>
<path d="M156.31 309.17V323.06M153.31 309.17H159.31M153.31 323.06H159.31" stroke="#246c18" stroke-width="1.2" fill="none"/>
<path d="M173.9 319.17V337.05M170.9 319.17H176.9M170.9 337.05H176.9" stroke="#246c18" stroke-width="1.2" fill="none"/>
<circle cx="68.32" cy="402.59" r="3.1" fill="#246c18"/>
<circle cx="85.92" cy="381.34" r="3.1" fill="#246c18"/>
<circle cx="103.52" cy="367.77" r="3.1" fill="#246c18"/>
<circle cx="121.11" cy="319.8" r="3.1" fill="#246c18"/>
<circle cx="138.71" cy="315.17" r="3.1" fill="#246c18"/>
<circle cx="156.31" cy="316.12" r="3.1" fill="#246c18"/>
<circle cx="173.9" cy="328.11" r="3.1" fill="#246c18"/>
<line x1="185.3" y1="277" x2="200.9" y2="277" stroke="#246c18" stroke-width="1.5"/>
<circle cx="193.1" cy="277" r="3.1" fill="#246c18"/>
<text transform="translate(209.43,280) scale(1.0200,1)" font-size="12" font-weight="normal">3-HI [EC<tspan font-size="9.3" dy="2.1">50</tspan><tspan dy="-2.1" dx="0.2">=3.5 µM]</tspan></text>
<line x1="185.3" y1="298.1" x2="200.9" y2="298.1" stroke="#87951f" stroke-width="1.5"/>
<rect x="190.2" y="295.2" width="5.8" height="5.8" fill="#87951f"/>
<text transform="translate(209.29,301.1) scale(1.0200,1)" font-size="12" font-weight="normal">6-HI [EC<tspan font-size="9.3" dy="2.1">50</tspan><tspan dy="-2.1" dx="0.2">=15.8 µM]</tspan></text>
<line x1="185.3" y1="319.3" x2="200.9" y2="319.3" stroke="#1d0f98" stroke-width="1.5"/>
<path d="M193.1 316L196 319.3L193.1 322.6L190.2 319.3Z" fill="#1d0f98"/>
<text transform="translate(209.26,322.3) scale(1.0200,1)" font-size="12" font-weight="normal">7-HI [EC<tspan font-size="9.3" dy="2.1">50</tspan><tspan dy="-2.1" dx="0.2">=11.3 µM]</tspan></text>
<text transform="translate(367.96,252.7) scale(1.0000,1)" font-size="15.8" font-weight="bold">D</text>
<text transform="translate(445.2,259.3) scale(1.0150,1)" font-size="12" font-weight="bold">FINO2 (5 µM)</text>
<path d="M410.08 265.99V419.42M404.08 413.42H556.78V419.42" stroke="#000" stroke-width="1.25" fill="none"/>
<path d="M404.08 387.23H410.08M404.08 361.04H410.08M404.08 334.85H410.08M404.08 308.66H410.08M404.08 282.47H410.08M424.75 413.42V416.72M439.42 413.42V419.42M454.09 413.42V416.72M468.76 413.42V419.42M483.43 413.42V416.72M498.1 413.42V419.42M512.77 413.42V416.72M527.44 413.42V419.42M542.11 413.42V416.72" stroke="#000" stroke-width="1.25" fill="none"/>
<text transform="translate(402.31,416.72) scale(1.0300,1)" font-size="10.5" font-weight="bold" text-anchor="end">0</text>
<text transform="translate(402.31,390.53) scale(1.0300,1)" font-size="10.5" font-weight="bold" text-anchor="end">25</text>
<text transform="translate(402.31,364.34) scale(1.0300,1)" font-size="10.5" font-weight="bold" text-anchor="end">50</text>
<text transform="translate(402.31,338.15) scale(1.0300,1)" font-size="10.5" font-weight="bold" text-anchor="end">75</text>
<text transform="translate(402.31,311.96) scale(1.0300,1)" font-size="10.5" font-weight="bold" text-anchor="end">100</text>
<text transform="translate(402.31,285.77) scale(1.0300,1)" font-size="10.5" font-weight="bold" text-anchor="end">125</text>
<text transform="translate(410.08,431.82) scale(1.0300,1)" font-size="10.5" font-weight="bold" text-anchor="middle">-0.5</text>
<text transform="translate(439.42,431.82) scale(1.0300,1)" font-size="10.5" font-weight="bold" text-anchor="middle">0.0</text>
<text transform="translate(468.76,431.82) scale(1.0300,1)" font-size="10.5" font-weight="bold" text-anchor="middle">0.5</text>
<text transform="translate(498.1,431.82) scale(1.0300,1)" font-size="10.5" font-weight="bold" text-anchor="middle">1.0</text>
<text transform="translate(527.44,431.82) scale(1.0300,1)" font-size="10.5" font-weight="bold" text-anchor="middle">1.5</text>
<text transform="translate(556.78,431.82) scale(1.0300,1)" font-size="10.5" font-weight="bold" text-anchor="middle">2.0</text>
<line x1="411.76" y1="361.04" x2="558.2" y2="361.04" stroke="#000" stroke-width="1.45" stroke-dasharray="5.9 4.35"/>
<text transform="translate(483.43,448.62) scale(1.0250,1)" font-size="12" font-weight="bold" text-anchor="middle">log [Dose], µM</text>
<text transform="translate(376.08,340.31) rotate(-90) scale(1.0750,1)" font-size="11.4" font-weight="bold" text-anchor="middle">Viability (% of control)</text>
<polyline points="433.49,391.46 434.66,391.38 435.84,391.28 437.01,391.18 438.19,391.06 439.36,390.94 440.53,390.81 441.71,390.66 442.88,390.51 444.06,390.34 445.23,390.15 446.41,389.95 447.58,389.73 448.76,389.5 449.93,389.25 451.1,388.97 452.28,388.67 453.45,388.35 454.63,388 455.8,387.63 456.98,387.23 458.15,386.79 459.32,386.32 460.5,385.82 461.67,385.28 462.85,384.7 464.02,384.07 465.2,383.41 466.37,382.69 467.55,381.94 468.72,381.13 469.89,380.26 471.07,379.35 472.24,378.38 473.42,377.36 474.59,376.28 475.77,375.14 476.94,373.94 478.12,372.69 479.29,371.38 480.46,370.02 481.64,368.61 482.81,367.14 483.99,365.62 485.16,364.07 486.34,362.47 487.51,360.83 488.68,359.17 489.86,357.47 491.03,355.76 492.21,354.04 493.38,352.3 494.56,350.57 495.73,348.84 496.91,347.12 498.08,345.42 499.25,343.75 500.43,342.1 501.6,340.49 502.78,338.91 503.95,337.38 505.13,335.89 506.3,334.45 507.48,333.07 508.65,331.74 509.82,330.47 511,329.25 512.17,328.09 513.35,326.98 514.52,325.94 515.7,324.95 516.87,324.01 518.04,323.13 519.22,322.3 520.39,321.52 521.57,320.79 522.74,320.1 523.92,319.46 525.09,318.87 526.27,318.31 527.44,317.79 528.61,317.31 529.79,316.86 530.96,316.44 532.14,316.06 533.31,315.7 534.49,315.37 535.66,315.06 536.84,314.78 538.01,314.52 539.18,314.27" fill="none" stroke="#1d0f98" stroke-width="1.5" stroke-linejoin="round"/>
<polyline points="433.49,397.68 434.66,397.53 435.84,397.37 437.01,397.21 438.19,397.03 439.36,396.83 440.53,396.63 441.71,396.41 442.88,396.18 444.06,395.93 445.23,395.67 446.41,395.39 447.58,395.09 448.76,394.77 449.93,394.44 451.1,394.08 452.28,393.7 453.45,393.3 454.63,392.88 455.8,392.43 456.98,391.96 458.15,391.46 459.32,390.93 460.5,390.37 461.67,389.79 462.85,389.17 464.02,388.52 465.2,387.84 466.37,387.13 467.55,386.38 468.72,385.6 469.89,384.78 471.07,383.93 472.24,383.05 473.42,382.13 474.59,381.18 475.77,380.19 476.94,379.17 478.12,378.11 479.29,377.03 480.46,375.91 481.64,374.77 482.81,373.6 483.99,372.4 485.16,371.18 486.34,369.94 487.51,368.68 488.68,367.41 489.86,366.12 491.03,364.82 492.21,363.52 493.38,362.21 494.56,360.91 495.73,359.6 496.91,358.3 498.08,357.01 499.25,355.73 500.43,354.47 501.6,353.22 502.78,351.99 503.95,350.78 505.13,349.6 506.3,348.45 507.48,347.32 508.65,346.22 509.82,345.15 511,344.12 512.17,343.12 513.35,342.15 514.52,341.22 515.7,340.32 516.87,339.45 518.04,338.63 519.22,337.83 520.39,337.07 521.57,336.34 522.74,335.65 523.92,334.99 525.09,334.36 526.27,333.76 527.44,333.19 528.61,332.65 529.79,332.14 530.96,331.66 532.14,331.2 533.31,330.77 534.49,330.36 535.66,329.97 536.84,329.61 538.01,329.26 539.18,328.94" fill="none" stroke="#87951f" stroke-width="1.5" stroke-linejoin="round"/>
<polyline points="433.49,378.15 434.66,377.44 435.84,376.66 437.01,375.81 438.19,374.88 439.36,373.87 440.53,372.79 441.71,371.62 442.88,370.38 444.06,369.06 445.23,367.68 446.41,366.23 447.58,364.74 448.76,363.2 449.93,361.64 451.1,360.06 452.28,358.48 453.45,356.91 454.63,355.36 455.8,353.85 456.98,352.38 458.15,350.97 459.32,349.63 460.5,348.36 461.67,347.16 462.85,346.04 464.02,345 465.2,344.04 466.37,343.15 467.55,342.34 468.72,341.61 469.89,340.94 471.07,340.34 472.24,339.79 473.42,339.3 474.59,338.86 475.77,338.47 476.94,338.12 478.12,337.81 479.29,337.53 480.46,337.29 481.64,337.07 482.81,336.88 483.99,336.71 485.16,336.55 486.34,336.42 487.51,336.3 488.68,336.2 489.86,336.11 491.03,336.03 492.21,335.96 493.38,335.89 494.56,335.84 495.73,335.79 496.91,335.75 498.08,335.71 499.25,335.68 500.43,335.65 501.6,335.62 502.78,335.6 503.95,335.58 505.13,335.57 506.3,335.55 507.48,335.54 508.65,335.53 509.82,335.52 511,335.51 512.17,335.5 513.35,335.49 514.52,335.49 515.7,335.48 516.87,335.48 518.04,335.47 519.22,335.47 520.39,335.46 521.57,335.46 522.74,335.46 523.92,335.46 525.09,335.46 526.27,335.45 527.44,335.45 528.61,335.45 529.79,335.45 530.96,335.45 532.14,335.45 533.31,335.45 534.49,335.45 535.66,335.45 536.84,335.45 538.01,335.44 539.18,335.44" fill="none" stroke="#246c18" stroke-width="1.5" stroke-linejoin="round"/>
<path d="M433.49 387.83V395.62M430.49 387.83H436.49M430.49 395.62H436.49" stroke="#1d0f98" stroke-width="1.2" fill="none"/>
<path d="M451.1 383.31V397.4M448.1 383.31H454.1M448.1 397.4H454.1" stroke="#1d0f98" stroke-width="1.2" fill="none"/>
<path d="M468.72 374.05V388.15M465.72 374.05H471.72M465.72 388.15H471.72" stroke="#1d0f98" stroke-width="1.2" fill="none"/>
<path d="M486.34 357.74V368.26M483.34 357.74H489.34M483.34 368.26H489.34" stroke="#1d0f98" stroke-width="1.2" fill="none"/>
<path d="M503.95 333.55V341.54M500.95 333.55H506.95M500.95 341.54H506.95" stroke="#1d0f98" stroke-width="1.2" fill="none"/>
<path d="M521.57 318.08V326.08M518.57 318.08H524.57M518.57 326.08H524.57" stroke="#1d0f98" stroke-width="1.2" fill="none"/>
<path d="M539.18 310.3V318.71M536.18 310.3H542.18M536.18 318.71H542.18" stroke="#1d0f98" stroke-width="1.2" fill="none"/>
<path d="M433.49 388.42L436.39 391.72L433.49 395.02L430.59 391.72Z" fill="#1d0f98"/>
<path d="M451.1 387.06L454 390.36L451.1 393.66L448.2 390.36Z" fill="#1d0f98"/>
<path d="M468.72 377.8L471.62 381.1L468.72 384.4L465.82 381.1Z" fill="#1d0f98"/>
<path d="M486.34 359.7L489.24 363L486.34 366.3L483.44 363Z" fill="#1d0f98"/>
<path d="M503.95 334.25L506.85 337.55L503.95 340.85L501.05 337.55Z" fill="#1d0f98"/>
<path d="M521.57 318.78L524.47 322.08L521.57 325.38L518.67 322.08Z" fill="#1d0f98"/>
<path d="M539.18 311.21L542.08 314.51L539.18 317.81L536.28 314.51Z" fill="#1d0f98"/>
<path d="M433.49 395.93V400.14M430.49 395.93H436.49M430.49 400.14H436.49" stroke="#87951f" stroke-width="1.2" fill="none"/>
<path d="M451.1 388.99V399.09M448.1 388.99H454.1M448.1 399.09H454.1" stroke="#87951f" stroke-width="1.2" fill="none"/>
<path d="M468.72 377.73V392.46M465.72 377.73H471.72M465.72 392.46H471.72" stroke="#87951f" stroke-width="1.2" fill="none"/>
<path d="M486.34 366.37V377.31M483.34 366.37H489.34M483.34 377.31H489.34" stroke="#87951f" stroke-width="1.2" fill="none"/>
<path d="M503.95 345.33V355.43M500.95 345.33H506.95M500.95 355.43H506.95" stroke="#87951f" stroke-width="1.2" fill="none"/>
<path d="M521.57 332.18V342.28M518.57 332.18H524.57M518.57 342.28H524.57" stroke="#87951f" stroke-width="1.2" fill="none"/>
<path d="M539.18 324.4V334.92M536.18 324.4H542.18M536.18 334.92H542.18" stroke="#87951f" stroke-width="1.2" fill="none"/>
<rect x="430.59" y="395.14" width="5.8" height="5.8" fill="#87951f"/>
<rect x="448.2" y="391.14" width="5.8" height="5.8" fill="#87951f"/>
<rect x="465.82" y="382.2" width="5.8" height="5.8" fill="#87951f"/>
<rect x="483.44" y="368.94" width="5.8" height="5.8" fill="#87951f"/>
<rect x="501.05" y="347.48" width="5.8" height="5.8" fill="#87951f"/>
<rect x="518.67" y="334.33" width="5.8" height="5.8" fill="#87951f"/>
<rect x="536.28" y="326.76" width="5.8" height="5.8" fill="#87951f"/>
<path d="M433.49 370.68V385.41M430.49 370.68H436.49M430.49 385.41H436.49" stroke="#246c18" stroke-width="1.2" fill="none"/>
<path d="M451.1 348.49V370.58M448.1 348.49H454.1M448.1 370.58H454.1" stroke="#246c18" stroke-width="1.2" fill="none"/>
<path d="M468.72 332.29V348.28M465.72 332.29H471.72M465.72 348.28H471.72" stroke="#246c18" stroke-width="1.2" fill="none"/>
<path d="M486.34 325.76V336.28M483.34 325.76H489.34M483.34 336.28H489.34" stroke="#246c18" stroke-width="1.2" fill="none"/>
<path d="M503.95 326.08V334.71M500.95 326.08H506.95M500.95 334.71H506.95" stroke="#246c18" stroke-width="1.2" fill="none"/>
<path d="M521.57 323.97V334.49M518.57 323.97H524.57M518.57 334.49H524.57" stroke="#246c18" stroke-width="1.2" fill="none"/>
<path d="M539.18 340.81V358.9M536.18 340.81H542.18M536.18 358.9H542.18" stroke="#246c18" stroke-width="1.2" fill="none"/>
<circle cx="433.49" cy="378.05" r="3.1" fill="#246c18"/>
<circle cx="451.1" cy="359.53" r="3.1" fill="#246c18"/>
<circle cx="468.72" cy="340.28" r="3.1" fill="#246c18"/>
<circle cx="486.34" cy="331.02" r="3.1" fill="#246c18"/>
<circle cx="503.95" cy="330.39" r="3.1" fill="#246c18"/>
<circle cx="521.57" cy="329.23" r="3.1" fill="#246c18"/>
<circle cx="539.18" cy="349.85" r="3.1" fill="#246c18"/>
<line x1="551.6" y1="277.5" x2="567.1" y2="277.5" stroke="#246c18" stroke-width="1.5"/>
<circle cx="559.35" cy="277.5" r="3.1" fill="#246c18"/>
<text transform="translate(575.53,280.5) scale(1.0200,1)" font-size="12" font-weight="normal">3-HI [EC<tspan font-size="9.3" dy="2.1">50</tspan><tspan dy="-2.1" dx="0.2">=1.6 µM]</tspan></text>
<line x1="551.6" y1="298.4" x2="567.1" y2="298.4" stroke="#87951f" stroke-width="1.5"/>
<rect x="556.45" y="295.5" width="5.8" height="5.8" fill="#87951f"/>
<text transform="translate(575.39,301.4) scale(1.0200,1)" font-size="12" font-weight="normal">6-HI [EC<tspan font-size="9.3" dy="2.1">50</tspan><tspan dy="-2.1" dx="0.2">=8.4 µM]</tspan></text>
<line x1="551.6" y1="319.3" x2="567.1" y2="319.3" stroke="#1d0f98" stroke-width="1.5"/>
<path d="M559.35 316L562.25 319.3L559.35 322.6L556.45 319.3Z" fill="#1d0f98"/>
<text transform="translate(575.36,322.3) scale(1.0200,1)" font-size="12" font-weight="normal">7-HI [EC<tspan font-size="9.3" dy="2.1">50</tspan><tspan dy="-2.1" dx="0.2">=8.4 µM]</tspan></text>
</svg></body></html>
